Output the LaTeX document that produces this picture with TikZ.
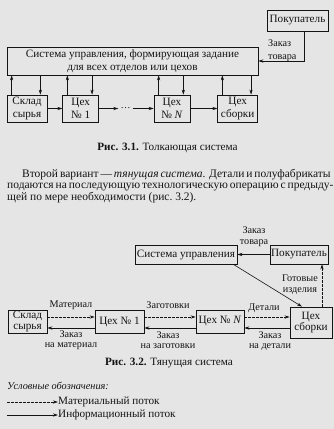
\documentclass[tikz,border=0pt]{standalone}
\usepackage{fontspec}
\setmainfont{Liberation Serif}
\usetikzlibrary{arrows.meta,positioning,calc}
\tikzset{
  bx/.style={rectangle,draw,line width=0.7pt,inner sep=1pt,align=center,font=\fontsize{11.2}{13}\selectfont},
  bxs/.style={bx,font=\fontsize{11.2}{11.5}\selectfont},
  info/.style={-{Stealth[length=5pt,width=3.2pt]},line width=0.6pt},
  mat/.style={-{Stealth[length=5pt,width=3.2pt]},line width=0.6pt,dash pattern=on 2.5pt off 1.5pt},
  lbl/.style={font=\fontsize{10.2}{10.5}\selectfont,align=center,inner sep=1pt},
  captxt/.style={font=\fontsize{11.2}{12}\selectfont,inner sep=0pt}
}

\begin{document}
\begin{tikzpicture}[x=1pt,y=-1pt,black!92]
\fill[black!10] (0,0) rectangle (334,429);
\useasboundingbox (0,0) rectangle (334,429);

% Рис. 3.1
\node[bx,minimum width=251pt,minimum height=28pt] (sys1) at (132.5,61)
  {Система управления, формирующая задание\\для всех отделов или цехов};
\node[bx,minimum width=61pt,minimum height=21pt] (pok1) at (297.5,20.5) {Покупатель};
\node[bx,minimum width=40pt,minimum height=27pt] (skl1) at (27,108.5) {Склад\\сырья};
\node[bx,minimum width=36pt,minimum height=27pt,right=15pt of skl1] (c11) {Цех\\№ 1};
\node[bx,minimum width=36pt,minimum height=27pt] (cN1) at (172,108.5) {Цех\\№ \textit{N}};
\node[bx,minimum width=40pt,minimum height=27pt,right=27pt of cN1] (sb1) {Цех\\сборки};
\node[inner sep=2pt] (dt1) at (125.5,108.5) {\dots};
\draw[info] (skl1) -- (c11);
\draw[info] (c11) -- (dt1);
\draw[info] (dt1) -- (cN1);
\draw[info] (cN1) -- (sb1);
\foreach \b in {skl1,c11,cN1,sb1} {
  \draw[info] ([xshift=5pt]\b.north west) -- ([xshift=5pt]\b.north west |- sys1.south);
  \draw[info] ([xshift=-7pt]\b.north east |- sys1.south) -- ([xshift=-7pt]\b.north east);
}
\draw[info] ([xshift=6.5pt]pok1.south) |- (sys1.east);
\node[lbl,align=left,anchor=west,font=\fontsize{10.2}{13}\selectfont] (zt1) at (267,50.5) {Заказ\\товара};
\node[captxt] (cap1) at (167.5,148) {\textbf{Рис. 3.1.} Толкающая система};

% текст
\node[anchor=north west,align=left,inner sep=0pt,
  font=\fontsize{11.5}{11.5}\selectfont] (txt) at (7,169)
  {\makebox[323pt][s]{\hspace*{15pt}Второй вариант --- \textit{тянущая система}. Детали и полуфабрикаты}\\
   \makebox[323pt][s]{подаются на последующую технологическую операцию с предыду-}\\
   щей по мере необходимости (рис.~3.2).};

% Рис. 3.2
\node[bxs,minimum width=102pt,minimum height=19pt] (sys2) at (186,254.5) {Система управления};
\node[bxs,minimum width=58pt,minimum height=19pt] (pok2) at (299,254.5) {Покупатель};
\node[bxs,minimum width=39pt,minimum height=23pt] (skl2) at (27.5,321.5) {Склад\\сырья};
\node[bxs,minimum width=49pt,minimum height=23pt] (c12) at (119.5,321.5) {Цех № 1};
\node[bxs,minimum width=48pt,minimum height=23pt] (cN2) at (220,321.5) {Цех № \textit{N}};
\node[bxs,minimum width=42pt,minimum height=31pt] (sb2) at (311,322.5) {Цех\\сборки};
\draw[info] (pok2) -- (sys2);
\node[lbl] (zt2) at (254,236.5) {Заказ\\товара};
\draw[info] ([xshift=-4pt]sys2.south east) -- ([xshift=-9pt]sb2.north);
\draw[mat] ([xshift=11pt]sb2.north) -- ([xshift=11pt]sb2.north |- pok2.south);
\node[lbl] (gi) at (300,284.5) {Готовые\\изделия};
\draw[mat] ([yshift=4.5pt]skl2.east) -- ([yshift=4.5pt]skl2.east -| c12.west);
\draw[mat] ([yshift=4.5pt]c12.east) -- ([yshift=4.5pt]c12.east -| cN2.west);
\draw[mat] ([yshift=4.5pt]cN2.east) -- ([yshift=4.5pt]cN2.east -| sb2.west);
\draw[info] ([yshift=-6.5pt]c12.west) -- ([yshift=-6.5pt]c12.west -| skl2.east);
\draw[info] ([yshift=-6.5pt]cN2.west) -- ([yshift=-6.5pt]cN2.west -| c12.east);
\draw[info] ([yshift=-6.5pt]sb2.west |- cN2.west) -- ([yshift=-6.5pt]cN2.east);
\node[lbl] (lm) at (71,305) {Материал};
\node[lbl] (lz) at (168,305) {Заготовки};
\node[lbl] (ld) at (264,308) {Детали};
\node[lbl] (om) at (71,340) {Заказ\\на материал};
\node[lbl] (oz) at (168,340) {Заказ\\на заготовки};
\node[lbl] (od) at (270,341) {Заказ\\на детали};
\node[captxt] (cap2) at (169,363) {\textbf{Рис. 3.2.} Тянущая система};

% условные обозначения
\node[captxt,anchor=west,font=\fontsize{10.3}{12}\selectfont\itshape] (uo) at (7,386) {Условные обозначения:};
\coordinate (lg1) at (7,402);
\coordinate (lg2) at (7,415);
\node[captxt,anchor=west] (lgm) at (58,402) {Материальный поток};
\node[captxt,anchor=west] (lgi) at (58,415) {Информационный поток};
\draw[mat] (lg1) -- (lgm.west);
\draw[info] (lg2) -- (lgi.west);
\end{tikzpicture}
\end{document}
